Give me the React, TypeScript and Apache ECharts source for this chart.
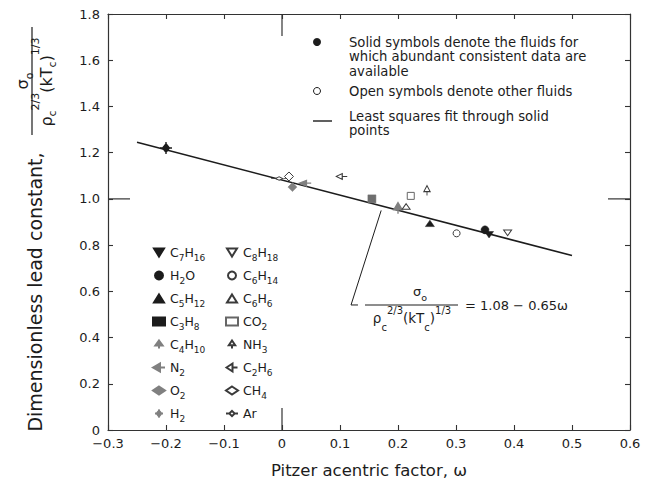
import React, { useEffect, useRef } from "react";
import * as echarts from "echarts";

// ---- data ----
const solidNames = ["C7H16", "H2O", "C5H12", "C3H8", "C4H10", "N2", "O2", "H2"];
const solidOmega = [0.357, 0.35, 0.255, 0.155, 0.2, 0.04, 0.018, -0.2];
const solidValue = [0.845, 0.866, 0.894, 1.0, 0.96, 1.068, 1.051, 1.22];

const openNames = ["C8H18", "C6H14", "C6H6", "CO2", "NH3", "C2H6", "CH4", "Ar"];
const openOmega = [0.389, 0.301, 0.214, 0.222, 0.25, 0.103, 0.012, -0.005];
const openValue = [0.853, 0.851, 0.967, 1.013, 1.036, 1.097, 1.097, 1.088];

const fitOmega = [-0.25, 0.5];
const fitValue = [1.245, 0.755];

const leaderOmega = [0.171, 0.119, 0.131];
const leaderValue = [0.95, 0.541, 0.541];

const xMin = -0.3;
const xMax = 0.6;
const xStep = 0.1;
const yMin = 0;
const yMax = 1.8;
const yStep = 0.2;
const refOmega = 0; // long tick positions
const refValue = 1.0;

// ---- styles ----
const F = "DejaVu Sans";
const INK = "#1c1c1c";
const GRAY = "#808080";
const OPEN = "#3a3a3a";

type Mk = { symbol: string; size: number[]; fill: string; stroke: string; bw: number; legendFill?: string };
const marks: Record<string, Mk> = {
  C7H16: { symbol: "path://M-5,0L5,0L0,8Z", size: [9, 8], fill: INK, stroke: INK, bw: 0.5 },
  H2O: { symbol: "circle", size: [8, 8], fill: INK, stroke: INK, bw: 0.5 },
  C5H12: { symbol: "path://M0,0L5,8L-5,8Z", size: [9, 8], fill: INK, stroke: INK, bw: 0.5 },
  C3H8: { symbol: "rect", size: [8, 8], fill: "#6e6e6e", stroke: "#6e6e6e", bw: 0.5, legendFill: INK },
  C4H10: { symbol: "path://M0,0L5,7L-5,7Z M0,7L0,11", size: [9, 11], fill: GRAY, stroke: GRAY, bw: 1.5 },
  N2: { symbol: "path://M0,0L7,-4L7,4Z M7,0L12,0", size: [12, 8], fill: GRAY, stroke: GRAY, bw: 1.5 },
  O2: { symbol: "diamond", size: [9, 9], fill: GRAY, stroke: GRAY, bw: 0.5 },
  H2: { symbol: "path://M0,-5L4,0L0,5L-4,0Z M-7,0L7,0 M0,-7L0,7", size: [12, 12], fill: INK, stroke: INK, bw: 1.4, legendFill: GRAY },
  C8H18: { symbol: "path://M-5,0L5,0L0,8Z", size: [8, 7], fill: "#fff", stroke: OPEN, bw: 1 },
  C6H14: { symbol: "circle", size: [7, 7], fill: "#fff", stroke: OPEN, bw: 1 },
  C6H6: { symbol: "path://M0,0L5,8L-5,8Z", size: [8, 7], fill: "#fff", stroke: OPEN, bw: 1 },
  CO2: { symbol: "rect", size: [7, 7], fill: "#fff", stroke: "#666", bw: 1 },
  NH3: { symbol: "path://M0,0L4,6L-4,6Z M0,6L0,10", size: [8, 10], fill: "#fff", stroke: OPEN, bw: 1 },
  C2H6: { symbol: "path://M0,0L6,-4L6,4Z M6,0L11,0", size: [11, 8], fill: "#fff", stroke: OPEN, bw: 1 },
  CH4: { symbol: "diamond", size: [9, 9], fill: "#fff", stroke: OPEN, bw: 1 },
  Ar: { symbol: "path://M0,-4L4,0L0,4L-4,0Z M-9,0L-5,0 M5,0L9,0", size: [16, 8], fill: "#fff", stroke: OPEN, bw: 1 },
};

const chem = (name: string) =>
  name
    .split(/(\d+)/)
    .filter((s) => s.length)
    .map((s) => (/^\d+$/.test(s) ? `{s|${s}}` : `{n|${s}}`))
    .join("");

const legendRich = {
  n: { fontFamily: F, fontSize: 12.5, lineHeight: 18, color: INK },
  s: { fontFamily: F, fontSize: 9, lineHeight: 8, height: 7, verticalAlign: "bottom", color: INK },
};

const makeSeries = (names: string[], xs: number[], ys: number[]) =>
  names.map((n, i) => {
    const m = marks[n];
    return {
      type: "scatter",
      name: n,
      data: [[xs[i], ys[i]]],
      symbol: m.symbol,
      symbolSize: m.size,
      symbolKeepAspect: true,
      itemStyle: { color: m.fill, borderColor: m.stroke, borderWidth: m.bw, opacity: 1 },
      z: 5,
      silent: true,
    };
  });

const makeLegendData = (names: string[]) =>
  names.map((n) => {
    const m = marks[n];
    const c = m.legendFill;
    return c ? { name: n, itemStyle: { color: c, borderColor: c } } : { name: n };
  });

const fmtX = (v: number) => {
  if (Math.abs(v) < 1e-9) return "0";
  const s = Math.abs(v).toFixed(1);
  return v < 0 ? "\u2212" + s : s;
};
const fmtY = (v: number) => (Math.abs(v) < 1e-9 ? "0" : v.toFixed(1));

const T = (x: number, y: number, text: string, size: number, extra: any = {}, rot = 0) => ({
  type: "text",
  x,
  y,
  rotation: rot,
  silent: true,
  style: { text, fontFamily: F, fontSize: size, fill: INK, align: "left", verticalAlign: "middle", ...extra },
});

const L = (x1: number, y1: number, x2: number, y2: number, w = 1.2, c = INK) => ({
  type: "line",
  silent: true,
  shape: { x1, y1, x2, y2 },
  style: { stroke: c, lineWidth: w },
});

const fracRich = (main: number, lh: number, small: number, supH: number, subH: number) => ({
  a: { fontFamily: F, fontSize: main, lineHeight: lh, fill: INK },
  p: { fontFamily: F, fontSize: small, height: supH, lineHeight: supH, verticalAlign: "top", fill: INK },
  s: { fontFamily: F, fontSize: small, height: subH, lineHeight: subH, verticalAlign: "bottom", fill: INK },
});

const DEN = "{a|\u03c1}{s|c}{p|2/3}{a|(kT}{s|c}{a|)}{p|1/3}";
const NUM = "{a|\u03c3}{s|o}";

export default function App() {
  const ref = useRef<HTMLDivElement>(null);
  useEffect(() => {
    if (!ref.current) return;
    const chart = echarts.init(ref.current, undefined, { renderer: "svg" });
    const axisLine = { show: true, onZero: false, lineStyle: { color: "#333", width: 1.2 } };
    const axisTick = { show: true, inside: true, length: 5, lineStyle: { color: "#333", width: 1.1 } };
    const labelStyle = { fontFamily: F, fontSize: 13, color: INK, showMinLabel: true, showMaxLabel: true };
    const legendBase = {
      orient: "vertical", top: 246, padding: 0,
      itemWidth: 12, itemHeight: 8, itemGap: 6.5, selectedMode: false, formatter: chem,
      textStyle: { fontFamily: F, fontSize: 12.5, color: INK, rich: legendRich },
    };
    const option: any = {
      animation: false,
      backgroundColor: "#fff",
      grid: { left: 108, top: 14, right: 21, bottom: 52 },
      xAxis: [
        {
          type: "value", min: xMin, max: xMax, interval: xStep, position: "bottom",
          axisLine, axisTick, splitLine: { show: false },
          axisLabel: { ...labelStyle, margin: 7, formatter: fmtX },
        },
        {
          type: "value", min: xMin, max: xMax, interval: xStep, position: "top",
          axisLine, axisTick, splitLine: { show: false }, axisLabel: { show: false },
        },
      ],
      yAxis: [
        {
          type: "value", min: yMin, max: yMax, interval: yStep, position: "left",
          axisLine, axisTick, splitLine: { show: false },
          axisLabel: { ...labelStyle, margin: 8, formatter: fmtY },
        },
        {
          type: "value", min: yMin, max: yMax, interval: yStep, position: "right",
          axisLine, axisTick, splitLine: { show: false }, axisLabel: { show: false },
        },
      ],
      legend: [
        { ...legendBase, data: makeLegendData(solidNames), left: 152 },
        { ...legendBase, data: makeLegendData(openNames), left: 225 },
      ],
      series: [
        {
          type: "line", name: "fit", data: fitOmega.map((x, i) => [x, fitValue[i]]),
          symbol: "none", lineStyle: { color: INK, width: 1.6 }, z: 3, silent: true,
        },
        {
          type: "line", name: "leader", data: leaderOmega.map((x, i) => [x, leaderValue[i]]),
          symbol: "none", lineStyle: { color: INK, width: 1 }, z: 3, silent: true,
        },
        ...makeSeries(solidNames, solidOmega, solidValue),
        ...makeSeries(openNames, openOmega, openValue),
      ],
    };
    chart.setOption(option);

    const px0 = chart.convertToPixel({ xAxisIndex: 0 }, refOmega) as number;
    const py1 = chart.convertToPixel({ yAxisIndex: 0 }, refValue) as number;
    const gl = chart.convertToPixel({ xAxisIndex: 0 }, xMin) as number;
    const gr = chart.convertToPixel({ xAxisIndex: 0 }, xMax) as number;
    const gb = chart.convertToPixel({ yAxisIndex: 0 }, yMin) as number;
    const gt = chart.convertToPixel({ yAxisIndex: 0 }, yMax) as number;
    const LT = 22;

    const elements: any[] = [
      // long reference ticks
      L(px0, gb, px0, gb - LT, 1.2, "#333"),
      L(px0, gt, px0, gt + LT, 1.2, "#333"),
      L(gl, py1, gl + LT, py1, 1.2, "#333"),
      L(gr, py1, gr - LT, py1, 1.2, "#333"),
      // axis titles
      T(369, 470, "Pitzer acentric factor, \u03c9", 16.5, { align: "center" }),
      T(35, 292, "Dimensionless lead constant,", 19, { align: "center" }, Math.PI / 2),
      T(22, 81, NUM, 16, { align: "center", rich: fracRich(16, 24, 11, 10, 10) }, Math.PI / 2),
      L(32, 27, 32, 135, 1.2),
      T(46, 82, DEN, 16, { align: "center", rich: fracRich(16, 30, 11, 8, 18) }, Math.PI / 2),
      // explanation box
      { type: "circle", silent: true, shape: { cx: 317, cy: 42, r: 4 }, style: { fill: INK } },
      T(349, 35, "Solid symbols denote the fluids for\nwhich abundant consistent data are\navailable", 13.2,
        { verticalAlign: "top", lineHeight: 14.5 }),
      { type: "circle", silent: true, shape: { cx: 317, cy: 91, r: 3.5 }, style: { fill: "#fff", stroke: INK, lineWidth: 1 } },
      T(349, 91, "Open symbols denote other fluids", 13.2),
      L(313, 121, 332, 121, 1.4),
      T(349, 109, "Least squares fit through solid\npoints", 13.2, { verticalAlign: "top", lineHeight: 14 }),
      // equation
      L(365, 305, 458, 305, 1),
      T(420, 291, NUM, 13, { align: "center", rich: fracRich(13, 20, 9.5, 8, 8) }),
      T(412, 318, DEN, 13.5, { align: "center", rich: fracRich(13.5, 24, 10, 8, 6) }),
      T(465, 305, "= 1.08 \u2212 0.65\u03c9", 13),
    ];
    chart.setOption({ graphic: { elements } });

    return () => chart.dispose();
  }, []);
  return (
    <div
      ref={ref}
      style={{ position: "absolute", left: 0, top: 0, width: 651, height: 482, background: "#fff" }}
    />
  );
}
